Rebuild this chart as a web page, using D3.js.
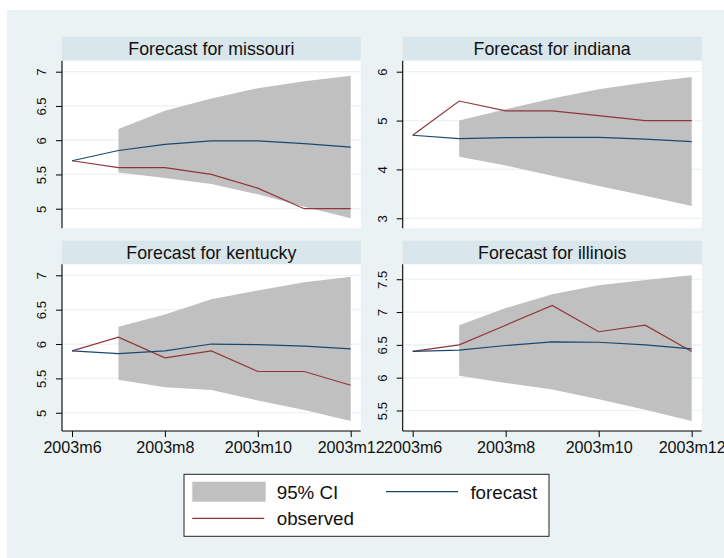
<!DOCTYPE html>
<html>
<head>
<meta charset="utf-8">
<script src="https://cdnjs.cloudflare.com/ajax/libs/d3/7.8.5/d3.min.js"></script>
<style>
  body { margin: 0; background: #fff; }
  svg { display: block; font-family: "Liberation Sans", Arial, sans-serif; }
</style>
</head>
<body>
<svg width="724" height="558"></svg>
<script>
// month labels (index 0..6 = 2003m6..2003m12)
const months = ["2003m6", "2003m7", "2003m8", "2003m9", "2003m10", "2003m11", "2003m12"];
const xTickIdx = [0, 2, 4, 6];

const states = ["missouri", "indiana", "kentucky", "illinois"];

// forecast (navy line)
const forecastMissouri = [5.70, 5.85, 5.94, 5.99, 5.99, 5.95, 5.90];
const forecastIndiana  = [4.70, 4.63, 4.65, 4.655, 4.655, 4.62, 4.57];
const forecastKentucky = [5.90, 5.86, 5.90, 6.00, 5.99, 5.97, 5.93];
const forecastIllinois = [6.40, 6.42, 6.49, 6.545, 6.54, 6.50, 6.44];

// observed (maroon line)
const observedMissouri = [5.7, 5.6, 5.6, 5.5, 5.3, 5.0, 5.0];
const observedIndiana  = [4.7, 5.4, 5.2, 5.2, 5.1, 5.0, 5.0];
const observedKentucky = [5.9, 6.1, 5.8, 5.9, 5.6, 5.6, 5.4];
const observedIllinois = [6.4, 6.5, 6.8, 7.1, 6.7, 6.8, 6.4];

// 95% CI, months 1..6 (2003m7..2003m12)
const upperMissouri = [6.165, 6.43, 6.61, 6.76, 6.86, 6.94];
const lowerMissouri = [5.53, 5.45, 5.36, 5.21, 5.03, 4.86];
const upperIndiana  = [5.00, 5.23, 5.45, 5.64, 5.78, 5.89];
const lowerIndiana  = [4.26, 4.08, 3.87, 3.66, 3.46, 3.25];
const upperKentucky = [6.25, 6.43, 6.65, 6.78, 6.90, 6.98];
const lowerKentucky = [5.48, 5.37, 5.33, 5.18, 5.04, 4.88];
const upperIllinois = [6.80, 7.06, 7.27, 7.41, 7.49, 7.56];
const lowerIllinois = [6.03, 5.92, 5.82, 5.67, 5.51, 5.34];

// y tick values
const ticksMissouri = [5, 5.5, 6, 6.5, 7];
const ticksIndiana  = [3, 4, 5, 6];
const ticksKentucky = [5, 5.5, 6, 6.5, 7];
const ticksIllinois = [5.5, 6, 6.5, 7, 7.5];

const panels = [
  {name: "missouri", fc: forecastMissouri, obs: observedMissouri, up: upperMissouri, lo: lowerMissouri, ticks: ticksMissouri, col: 0, row: 0},
  {name: "indiana",  fc: forecastIndiana,  obs: observedIndiana,  up: upperIndiana,  lo: lowerIndiana,  ticks: ticksIndiana,  col: 1, row: 0},
  {name: "kentucky", fc: forecastKentucky, obs: observedKentucky, up: upperKentucky, lo: lowerKentucky, ticks: ticksKentucky, col: 0, row: 1},
  {name: "illinois", fc: forecastIllinois, obs: observedIllinois, up: upperIllinois, lo: lowerIllinois, ticks: ticksIllinois, col: 1, row: 1}
];

const BG = "#eaf2f3", STRIP = "#d9e6eb", NAVY = "#1a476f", MAROON = "#90353b", CI = "#c0c0c0";

const svg = d3.select("svg");
svg.append("rect").attr("x", 7).attr("y", 10).attr("width", 717).attr("height", 548).attr("fill", BG);

// column / row geometry
const cols = [{x0: 62, x1: 360.7}, {x0: 402.7, x1: 701.7}];
const rows = [{s0: 36.7, y0: 60.7, y1: 228.3}, {s0: 240.7, y0: 264.3, y1: 431}];

panels.forEach(p => {
  const c = cols[p.col], r = rows[p.row];
  const g = svg.append("g");

  const all = p.fc.concat(p.obs, p.up, p.lo, p.ticks);
  const y = d3.scaleLinear().domain([d3.min(all), d3.max(all)]).range([r.y1 - 10, r.y0 + 11]);
  const x = d3.scaleLinear().domain([0, 6]).range([c.x0 + 10, c.x1 - 10]);

  // title strip
  g.append("rect").attr("x", c.x0).attr("y", r.s0).attr("width", c.x1 - c.x0).attr("height", r.y0 - r.s0).attr("fill", STRIP);
  g.append("text")
    .attr("x", (c.x0 + c.x1) / 2).attr("y", (r.s0 + r.y0) / 2 + 6.3)
    .attr("text-anchor", "middle").attr("font-size", 17.8).attr("fill", "#111")
    .text("Forecast for " + p.name);

  // plot region
  g.append("rect").attr("x", c.x0).attr("y", r.y0).attr("width", c.x1 - c.x0).attr("height", r.y1 - r.y0).attr("fill", "#fff");

  // gridlines
  g.selectAll(".grid").data(p.ticks).enter().append("line")
    .attr("x1", c.x0).attr("x2", c.x1)
    .attr("y1", d => y(d)).attr("y2", d => y(d))
    .attr("stroke", BG).attr("stroke-width", 1.2);

  // CI band
  const band = d3.area()
    .x((d, i) => x(i + 1))
    .y0((d, i) => y(p.lo[i]))
    .y1(d => y(d));
  g.append("path").datum(p.up).attr("d", band).attr("fill", CI);

  const line = d3.line().x((d, i) => x(i)).y(d => y(d));
  g.append("path").datum(p.obs).attr("d", line).attr("fill", "none").attr("stroke", MAROON).attr("stroke-width", 1.2);
  g.append("path").datum(p.fc).attr("d", line).attr("fill", "none").attr("stroke", NAVY).attr("stroke-width", 1.2);

  // y axis
  const yAxis = d3.axisLeft(y).tickValues(p.ticks).tickSize(6).tickPadding(4).tickFormat(d3.format("~g"));
  const ya = g.append("g").attr("transform", `translate(${c.x0},0)`).call(yAxis);
  ya.select(".domain").attr("d", `M0,${r.y0}V${r.y1}`).attr("stroke", "#000").attr("stroke-width", 1.1);
  ya.selectAll(".tick line").attr("stroke", "#000");
  ya.selectAll(".tick text")
    .attr("font-family", null).attr("font-size", 13.2).attr("fill", "#111")
    .attr("x", null).attr("dy", null)
    .attr("transform", "translate(-20.3,0) rotate(-90)")
    .attr("text-anchor", "middle").attr("dy", "0.36em");

  // x axis on bottom row only
  if (p.row === 1) {
    const xAxis = d3.axisBottom(x).tickValues(xTickIdx).tickSize(6).tickPadding(4).tickFormat(i => months[i]);
    const xa = g.append("g").attr("transform", `translate(0,${r.y1})`).call(xAxis);
    xa.select(".domain").attr("d", `M${c.x0},0H${c.x1}`).attr("stroke", "#000").attr("stroke-width", 1.1);
    xa.selectAll(".tick line").attr("stroke", "#000");
    xa.selectAll(".tick text").attr("font-family", null).attr("font-size", 16.1).attr("fill", "#111")
      .attr("y", 21.7).attr("dy", null);
  }
});

// legend
const lg = svg.append("g");
lg.append("rect").attr("x", 184).attr("y", 474.3).attr("width", 365).attr("height", 62)
  .attr("fill", "#fff").attr("stroke", "#222").attr("stroke-width", 1);
const legendItems = [
  {label: "95% CI", kind: "area", color: CI, x: 192.3, y: 491.7},
  {label: "forecast", kind: "line", color: NAVY, x: 386, y: 491.7},
  {label: "observed", kind: "line", color: MAROON, x: 192.3, y: 518.3}
];
legendItems.forEach(d => {
  if (d.kind === "area") {
    lg.append("rect").attr("x", d.x).attr("y", d.y - 10).attr("width", 73.4).attr("height", 20).attr("fill", d.color);
  } else {
    lg.append("line").attr("x1", d.x).attr("x2", d.x + 72).attr("y1", d.y).attr("y2", d.y)
      .attr("stroke", d.color).attr("stroke-width", 1.3);
  }
  lg.append("text").attr("x", d.x + 84.4).attr("y", d.y + 6.8)
    .attr("font-size", 18.8).attr("fill", "#111").text(d.label);
});
</script>
</body>
</html>
